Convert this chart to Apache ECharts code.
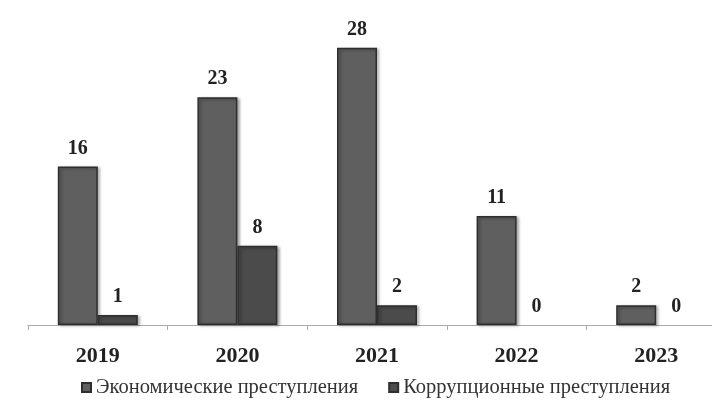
<!DOCTYPE html>
<html><head><meta charset="utf-8">
<script src="https://cdn.jsdelivr.net/npm/echarts@6/dist/echarts.min.js"></script>
<style>html,body{margin:0;padding:0;background:#fff;overflow:hidden;width:712px;height:408px}#c{width:730px;height:408px}</style>
</head><body><div id="c"></div>
<script>
const categories = ['2019','2020','2021','2022','2023'];
const economic = [16, 23, 28, 11, 2];
const corruption = [1, 8, 2, 0, 0];
const seriesNames = ['Экономические преступления', 'Коррупционные преступления'];

const font = '"Liberation Serif", "Times New Roman", serif';
const chart = echarts.init(document.getElementById('c'));
function barStyle(color){
  return {
    color: color,
    borderColor: '#2e2e2e',
    borderWidth: 1.5,
    shadowColor: 'rgba(0,0,0,0.35)',
    shadowBlur: 3,
    shadowOffsetX: 2,
    shadowOffsetY: 1
  };
}
function items(arr){
  return arr.map(v => v === 0 ? {value:v, itemStyle:{borderWidth:0, shadowBlur:0, shadowOffsetX:0, shadowOffsetY:0}} : v);
}
const lbl = {show:true, position:'top', distance:8, color:'#222', fontFamily:font, fontWeight:'bold', fontSize:20};
chart.setOption({
  animation:false,
  grid:{left:28, top:28, width:698, height:297},
  legend:{
    top:372, left:76, itemWidth:9, itemHeight:9, itemGap:30,
    icon:'rect',
    textStyle:{fontFamily:font, fontSize:20.5, color:'#333'},
    data:seriesNames
  },
  xAxis:{
    type:'category', data:categories,
    axisLine:{lineStyle:{color:'#aaa', width:1}},
    axisTick:{show:true, lineStyle:{color:'#aaa'}, length:5},
    axisLabel:{margin:20, color:'#222', fontFamily:font, fontWeight:'bold', fontSize:22}
  },
  yAxis:{type:'value', min:0, max:30, show:false, splitLine:{show:false}},
  series:[
    {name:seriesNames[0], type:'bar', data:items(economic), barWidth:40, barGap:'0%', itemStyle:barStyle('#5f5f5f'), label:lbl},
    {name:seriesNames[1], type:'bar', data:items(corruption), barWidth:40, barGap:'0%', itemStyle:barStyle('#4b4b4b'), label:lbl}
  ]
});
</script></body></html>
